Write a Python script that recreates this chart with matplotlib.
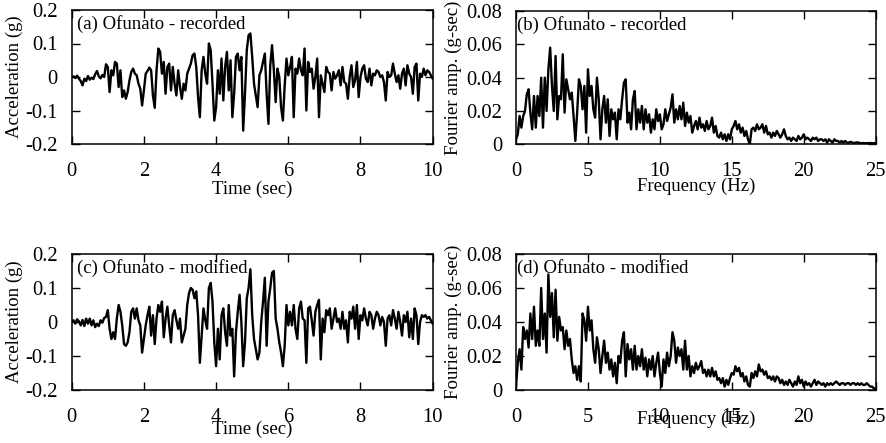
import numpy as np
import matplotlib
matplotlib.use("Agg")
import matplotlib.pyplot as plt
from matplotlib.ticker import FuncFormatter, FixedLocator

# ---------------- data ----------------
acc_recorded = [
    0.0, 0.002, -0.003, 0.004, -0.005, -0.012, -0.025, -0.005, -0.012, 0.003, -0.008, -0.002, -0.006, 0.008, 0.018, 0.002, -0.004, 0.006, 0.0, 0.038,
    0.03, -0.045, 0.02, 0.005, 0.045, 0.04, -0.03, 0.02, -0.06, -0.04, -0.065, -0.045, -0.01, 0.015, 0.025, 0.01, 0.005, -0.02, -0.035, -0.085,
    -0.04, 0.01, 0.018, 0.028, 0.02, -0.055, -0.092, 0.02, 0.085, 0.075, 0.01, 0.045, -0.05, 0.03, 0.04, -0.04, 0.03, -0.02, -0.055, 0.02,
    -0.03, -0.065, -0.02, -0.04, 0.01, 0.025, 0.04, 0.065, 0.07, 0.03, -0.06, -0.12, 0.02, 0.06, 0.01, -0.02, 0.1, 0.08, -0.02, -0.13,
    -0.09, 0.02, -0.05, 0.055, -0.07, 0.03, 0.075, -0.04, 0.05, -0.12, -0.05, 0.06, 0.07, 0.02, 0.06, -0.16, -0.05, 0.08, 0.125, 0.13,
    0.06, -0.02, -0.055, -0.09, 0.005, 0.02, 0.045, 0.07, -0.05, -0.14, 0.035, 0.095, 0.02, -0.075, 0.025, 0.0, -0.09, -0.13, -0.025, 0.055,
    0.005, 0.03, 0.06, -0.12, 0.025, 0.01, 0.055, 0.02, 0.005, 0.085, -0.1, 0.045, 0.015, 0.025, -0.035, 0.0, 0.055, -0.12, 0.005, -0.02,
    -0.045, 0.03, 0.015, 0.01, -0.04, 0.015, -0.005, 0.005, 0.02, -0.025, 0.03, -0.015, -0.02, -0.065, 0.0, 0.035, -0.03, -0.01, 0.045, -0.06,
    0.0, 0.025, 0.035, -0.005, -0.015, 0.025, -0.025, 0.01, 0.005, 0.02, 0.015, 0.0, 0.005, -0.015, -0.07, 0.015, 0.0, 0.005, 0.04, 0.01,
    -0.015, 0.005, -0.035, 0.01, 0.025, -0.025, 0.035, 0.01, 0.0, -0.05, 0.03, 0.04, -0.07, 0.01, 0.0, 0.025, 0.005, 0.02, 0.015, 0.005, -0.005,
]

acc_modified = [
    0.0, 0.005, -0.005, 0.008, 0.002, -0.01, 0.006, -0.012, 0.01, -0.005, 0.01, -0.01, 0.005, -0.015, -0.005, -0.012, 0.005, -0.002, 0.012, 0.015,
    0.035, -0.02, -0.05, -0.03, -0.05, 0.01, 0.05, 0.03, -0.01, -0.065, -0.07, -0.06, -0.03, 0.03, 0.04, 0.01, 0.04, 0.005, -0.01, -0.09,
    -0.05, -0.01, 0.02, 0.045, -0.04, 0.02, -0.065, 0.01, 0.05, 0.03, 0.06, -0.045, 0.01, 0.045, -0.01, -0.06, 0.02, 0.035, 0.005, -0.02,
    0.01, -0.06, -0.04, -0.02, 0.05, 0.085, 0.1, 0.095, 0.07, 0.09, 0.02, -0.12, -0.04, 0.04, 0.005, -0.02, 0.1, 0.115, 0.06, -0.06,
    -0.13, -0.02, -0.11, 0.02, 0.04, -0.03, -0.07, 0.05, -0.04, -0.02, -0.16, -0.03, 0.03, 0.08, 0.0, -0.13, -0.06, 0.07, 0.1, 0.155,
    0.02, -0.05, -0.08, -0.11, -0.09, 0.0, 0.06, 0.13, -0.07, 0.06, 0.1, 0.145, 0.15, 0.01, -0.02, -0.06, -0.09, -0.13, -0.07, 0.05,
    -0.01, 0.03, -0.01, 0.05, -0.02, -0.05, 0.04, 0.06, 0.01, 0.005, -0.12, 0.04, 0.045, 0.005, -0.04, 0.03, 0.05, 0.065, -0.11, 0.01,
    -0.03, 0.035, 0.02, 0.04, -0.02, 0.01, 0.04, 0.0, 0.01, -0.02, 0.03, -0.02, 0.005, -0.06, 0.03, 0.01, 0.045, -0.02, 0.05, -0.05,
    0.02, 0.005, 0.04, 0.01, -0.01, 0.03, 0.02, -0.02, 0.01, 0.03, 0.02, -0.01, 0.015, 0.0, -0.07, 0.01, 0.02, -0.01, 0.035, 0.01,
    -0.02, 0.03, 0.0, -0.04, 0.02, 0.0, 0.03, -0.045, 0.01, -0.05, 0.04, 0.02, -0.065, 0.0, 0.02, 0.015, 0.02, 0.01, 0.015, 0.005, -0.005,
]

fourier_recorded = [
    0.003, 0.006, 0.017, 0.01, 0.017, 0.02, 0.03, 0.033,
    0.019, 0.009, 0.029, 0.01, 0.029, 0.017, 0.04, 0.01,
    0.04, 0.02, 0.045, 0.058, 0.035, 0.02, 0.053, 0.015,
    0.029, 0.027, 0.054, 0.019, 0.039, 0.033, 0.027, 0.031,
    0.017, 0.002, 0.019, 0.039, 0.035, 0.021, 0.035, 0.007,
    0.045, 0.029, 0.035, 0.021, 0.016, 0.04, 0.027, 0.003,
    0.021, 0.029, 0.013, 0.027, 0.005, 0.021, 0.015, 0.019,
    0.003, 0.021, 0.015, 0.027, 0.037, 0.039, 0.013, 0.019,
    0.009, 0.027, 0.032, 0.009, 0.021, 0.013, 0.023, 0.009,
    0.021, 0.013, 0.018, 0.007, 0.015, 0.009, 0.021, 0.014,
    0.018, 0.009, 0.012, 0.021, 0.014, 0.018, 0.022, 0.03,
    0.013, 0.021, 0.015, 0.023, 0.015, 0.025, 0.011, 0.019,
    0.013, 0.017, 0.007, 0.011, 0.014, 0.009, 0.016, 0.01,
    0.012, 0.008, 0.014, 0.009, 0.011, 0.016, 0.007, 0.011,
    0.005, 0.004, 0.007, 0.003, 0.006, 0.002, 0.006, 0.003,
    0.009, 0.011, 0.014, 0.009, 0.012, 0.007, 0.01, 0.005,
    0.008, 0.003, 0.0, 0.009, 0.01, 0.008, 0.012, 0.009,
    0.01, 0.012, 0.007, 0.011, 0.006, 0.007, 0.004, 0.007,
    0.005, 0.008, 0.006, 0.004, 0.006, 0.009, 0.005, 0.003,
    0.004, 0.002, 0.004, 0.003, 0.002, 0.005, 0.003, 0.004,
    0.006, 0.003, 0.004, 0.003, 0.002, 0.004, 0.003, 0.004,
    0.002, 0.003, 0.003, 0.002, 0.003, 0.001, 0.003, 0.002,
    0.001, 0.003, 0.002, 0.002, 0.001, 0.002, 0.001, 0.002,
    0.001, 0.001, 0.0015, 0.001, 0.0008, 0.001, 0.0012, 0.0008,
    0.0006, 0.0008, 0.0006, 0.0007, 0.0006, 0.0008, 0.0006, 0.0007,
    0.0005,
]

fourier_modified = [
    0.002, 0.016, 0.024, 0.012, 0.037, 0.03, 0.035, 0.025,
    0.045, 0.03, 0.049, 0.026, 0.035, 0.026, 0.06, 0.03,
    0.045, 0.022, 0.068, 0.043, 0.057, 0.031, 0.059, 0.029,
    0.043, 0.035, 0.037, 0.024, 0.035, 0.026, 0.03, 0.018,
    0.01, 0.014, 0.006, 0.014, 0.005, 0.045, 0.041, 0.029,
    0.049, 0.035, 0.041, 0.024, 0.016, 0.031, 0.024, 0.01,
    0.02, 0.029, 0.016, 0.022, 0.012, 0.018, 0.008, 0.016,
    0.004, 0.02, 0.016, 0.029, 0.034, 0.008, 0.027, 0.018,
    0.024, 0.012, 0.026, 0.012, 0.02, 0.014, 0.024, 0.012,
    0.019, 0.008, 0.018, 0.012, 0.02, 0.008, 0.016, 0.022,
    0.01, 0.002, 0.018, 0.01, 0.022, 0.014, 0.02, 0.034,
    0.029, 0.016, 0.025, 0.02, 0.024, 0.012, 0.029, 0.012,
    0.02, 0.008, 0.014, 0.01, 0.016, 0.012, 0.014, 0.017,
    0.01, 0.012, 0.008, 0.012, 0.008, 0.013, 0.008, 0.011,
    0.006, 0.007, 0.004, 0.007, 0.002, 0.006, 0.003, 0.007,
    0.01, 0.009, 0.014, 0.011, 0.013, 0.008, 0.01, 0.005,
    0.008, 0.003, 0.002, 0.01, 0.007, 0.011, 0.008, 0.015,
    0.011, 0.012, 0.009, 0.011, 0.007, 0.008, 0.006, 0.008,
    0.005, 0.008, 0.007, 0.004, 0.006, 0.003, 0.005, 0.003,
    0.006, 0.004, 0.002, 0.005, 0.003, 0.008, 0.004, 0.006,
    0.002, 0.005, 0.003, 0.004, 0.002, 0.004, 0.006, 0.003,
    0.005, 0.004, 0.003, 0.004, 0.002, 0.004, 0.003, 0.004,
    0.003, 0.004, 0.005, 0.004, 0.003, 0.004, 0.004, 0.003,
    0.004, 0.004, 0.003, 0.004, 0.004, 0.003, 0.004, 0.003,
    0.004, 0.003, 0.003, 0.004, 0.003, 0.002, 0.002, 0.001,
    0.0005,
]

time_ticks = [0, 2, 4, 6, 8, 10]
acc_ticks = [-0.2, -0.1, 0, 0.1, 0.2]
freq_ticks = [0, 5, 10, 15, 20, 25]
amp_ticks = [0, 0.02, 0.04, 0.06, 0.08]

panel_titles = ["(a) Ofunato - recorded", "(b) Ofunato - recorded",
                "(c) Ofunato - modified", "(d) Ofunato - modified"]

# ---------------- figure ----------------
plt.rcParams['font.family'] = ['Liberation Serif', 'DejaVu Serif']
plt.rcParams['axes.unicode_minus'] = False
FS = 13.5
FS_TICK = 14.8

W, H = 887, 443
fig = plt.figure(figsize=(W / 100, H / 100), dpi=100)


def rect(l, r, t, b):
    return [l / W, 1 - b / H, (r - l) / W, (b - t) / H]


fmt = FuncFormatter(lambda v, p: f"{v:g}")


def style(ax, xt, yt, xlabel, ylabel, xl_y, yl_x, ylabel_fs=FS):
    ax.xaxis.set_major_locator(FixedLocator(xt))
    ax.yaxis.set_major_locator(FixedLocator(yt))
    ax.xaxis.set_major_formatter(fmt)
    ax.yaxis.set_major_formatter(fmt)
    ax.tick_params(direction='in', top=True, right=True, length=6, width=1,
                   labelsize=FS_TICK, color='black')
    ax.tick_params(axis='x', pad=13)
    ax.tick_params(axis='y', pad=10)
    for s in ax.spines.values():
        s.set_linewidth(1.1)
    ax.set_xlabel(xlabel, fontsize=FS)
    ax.set_ylabel(ylabel, fontsize=ylabel_fs)
    ax.xaxis.set_label_coords(0.5, xl_y)
    ax.yaxis.set_label_coords(yl_x, 0.5)


t_rec = np.linspace(0, 10, len(acc_recorded))
t_mod = np.linspace(0, 10, len(acc_modified))
f_rec = np.linspace(0, 25, len(fourier_recorded))
f_mod = np.linspace(0, 25, len(fourier_modified))

LW = 1.7

ax_a = fig.add_axes(rect(71.7, 432.7, 10, 144))
ax_a.plot(t_rec, acc_recorded, color='black', lw=LW)
ax_a.set_xlim(0, 10)
ax_a.set_ylim(-0.2, 0.2)
style(ax_a, time_ticks, acc_ticks, "Time (sec)", "Acceleration (g)", -0.275, -0.135)
ax_a.text(0.015, 0.96, panel_titles[0], transform=ax_a.transAxes, fontsize=FS, va='top', ha='left')

ax_b = fig.add_axes(rect(516, 875.7, 11, 144.3))
ax_b.plot(f_rec, fourier_recorded, color='black', lw=LW)
ax_b.set_xlim(0, 25)
ax_b.set_ylim(0, 0.08)
style(ax_b, freq_ticks, amp_ticks, "Frequency (Hz)", "Fourier amp. (g-sec)", -0.25, -0.15, 13.6)
ax_b.text(0.004, 0.96, panel_titles[1], transform=ax_b.transAxes, fontsize=FS, va='top', ha='left')

ax_c = fig.add_axes(rect(71.7, 432.7, 254, 390))
ax_c.plot(t_mod, acc_modified, color='black', lw=LW)
ax_c.set_xlim(0, 10)
ax_c.set_ylim(-0.2, 0.2)
style(ax_c, time_ticks, acc_ticks, "Time (sec)", "Acceleration (g)", -0.228, -0.135)
ax_c.text(0.015, 0.96, panel_titles[2], transform=ax_c.transAxes, fontsize=FS, va='top', ha='left')

ax_d = fig.add_axes(rect(516, 875.7, 254, 390))
ax_d.plot(f_mod, fourier_modified, color='black', lw=LW)
ax_d.set_xlim(0, 25)
ax_d.set_ylim(0, 0.08)
style(ax_d, freq_ticks, amp_ticks, "Frequency (Hz)", "Fourier amp. (g-sec)", -0.155, -0.15, 13.6)
ax_d.text(0.004, 0.96, panel_titles[3], transform=ax_d.transAxes, fontsize=FS, va='top', ha='left')

fig.savefig("out.png", dpi=100)
